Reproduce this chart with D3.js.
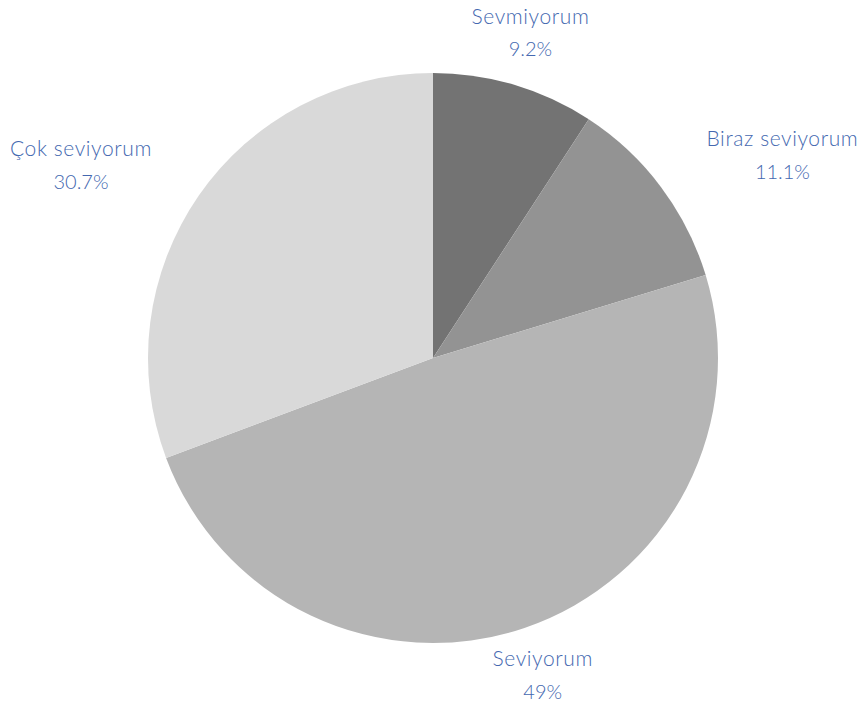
<!DOCTYPE html>
<html>
<head>
<meta charset="utf-8">
<script src="https://cdn.jsdelivr.net/npm/d3@7/dist/d3.min.js"></script>
<style>
  html, body { margin: 0; padding: 0; background: #fff; }
  svg { display: block; }
</style>
</head>
<body>
<svg id="chart" width="862" height="709"></svg>
<script>
// Answer categories, their shares (%) and slice fills
const categories = ["Sevmiyorum", "Biraz seviyorum", "Seviyorum", "Çok seviyorum"];
const shares = [9.2, 11.1, 49, 30.7];
const percentLabels = ["9.2%", "11.1%", "49%", "30.7%"];
const fills = ["#737373", "#939393", "#b5b5b5", "#d9d9d9"];

const width = 862, height = 709;
const cx = 433, cy = 358, radius = 285;
const labelRadius = radius * 1.2;
const labelColor = "#4468b0";

const svg = d3.select("#chart");
const g = svg.append("g").attr("transform", `translate(${cx},${cy})`);

const rows = categories.map((c, i) => ({ name: c, value: shares[i], pct: percentLabels[i], fill: fills[i] }));

const pie = d3.pie().sort(null).value(d => d.value);
const arc = d3.arc().innerRadius(0).outerRadius(radius);
const arcs = pie(rows);

g.selectAll("path.slice")
  .data(arcs)
  .join("path")
  .attr("class", "slice")
  .attr("d", arc)
  .attr("fill", d => d.data.fill);

// Two-line labels outside the pie: name above, share below, centred on each other;
// the block is anchored on its left/right edge depending on the side of the pie
// and pulled back inside the canvas if it would run off the bottom.
const label = g.selectAll("g.label")
  .data(arcs)
  .join("g")
  .attr("class", "label");

label.append("text")
  .attr("y", -14)
  .attr("dy", "0.35em")
  .attr("text-anchor", "middle")
  .attr("font-family", "Lato, sans-serif")
  .attr("font-weight", 300)
  .attr("font-size", 21)
  .attr("letter-spacing", 0.6)
  .attr("fill", labelColor)
  .text(d => d.data.name);

label.append("text")
  .attr("y", 19)
  .attr("dy", "0.35em")
  .attr("text-anchor", "middle")
  .attr("font-family", "Lato, sans-serif")
  .attr("font-weight", 300)
  .attr("font-size", 20)
  .attr("fill", labelColor)
  .text(d => d.data.pct);

label.each(function (d) {
  const a = (d.startAngle + d.endAngle) / 2;
  const s = Math.sin(a);
  const sel = d3.select(this);
  const w = sel.select("text").node().getComputedTextLength();
  let shift = 0;
  if (Math.abs(s) >= 0.5) shift = s > 0 ? w / 2 : -w / 2;
  sel.selectAll("text").attr("x", shift);

  let x = labelRadius * s;
  let y = -labelRadius * Math.cos(a);
  const box = this.getBBox();
  const bottom = cy + y + box.y + box.height;
  const limit = height - 6;
  if (bottom > limit) y -= bottom - limit;
  sel.attr("transform", `translate(${x},${y})`);
});
</script>
</body>
</html>
